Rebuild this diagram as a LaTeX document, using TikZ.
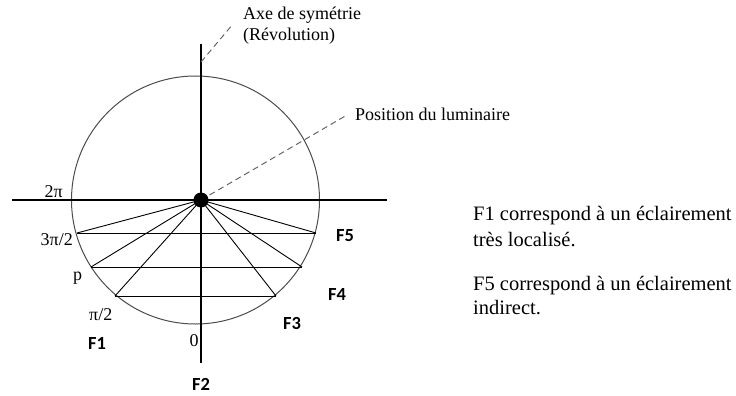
\documentclass[tikz,border=0pt]{standalone}
\usepackage{fontspec}
\setmainfont{Liberation Serif}
\newfontfamily\flabfont{Carlito}
\begin{document}
\begin{tikzpicture}[x=1pt,y=-1pt,
  axisln/.style={line width=1.2pt, black},
  circln/.style={line width=1pt, black!70},
  chordln/.style={line width=0.9pt, black},
  dashln/.style={dash pattern=on 6pt off 4pt, line width=1pt, black!60},
  lbl/.style={font=\fontsize{18}{20}\selectfont, inner sep=0pt},
  flab/.style={font=\flabfont\bfseries\fontsize{18.5}{20}\selectfont, inner sep=0pt},
  note/.style={font=\fontsize{20.5}{25}\selectfont, inner sep=0pt, anchor=base west},
  dot/.style={circle, fill=black, inner sep=0pt, minimum size=15pt}]
\useasboundingbox (0,0) rectangle (736,396);

% circle
\coordinate (C) at (195.5,200);
\draw[circln] (C) circle[radius=124pt];

% centre / axes ends
\coordinate (O) at (201,200);
\coordinate (vt) at (201,44);
\coordinate (vb) at (201,363);
\coordinate (hl) at (12,200);
\coordinate (hr) at (387,200);

% chord end points
\coordinate (a1) at (77,233);  \coordinate (a2) at (316,233);
\coordinate (b1) at (91,267);  \coordinate (b2) at (302,267);
\coordinate (c1) at (115,296); \coordinate (c2) at (276,296);

\draw[chordln] (a1) -- (a2);
\draw[chordln] (b1) -- (b2);
\draw[chordln] (c1) -- (c2);
\foreach \p in {a1,a2,b1,b2,c1,c2} \draw[chordln] (O) -- (\p);

% axes
\draw[axisln] (vt) -- (vb);
\draw[axisln] (hl) -- (hr);

% dashed leaders
\coordinate (axtop) at (201,62);
\coordinate (axend) at (233,24);
\coordinate (lumend) at (347,115);
\draw[dashln] (axtop) -- (axend);
\draw[dashln] (O) -- (lumend);

\node[dot] (lum) at (O) {};

% labels
\node[lbl, anchor=base west] (ax1) at (243,20) {Axe de symétrie};
\node[lbl, anchor=base west] (ax2) at (243,40.5) {(Révolution)};
\node[lbl, anchor=base west] (pos) at (355,120) {Position du luminaire};

\node[lbl, anchor=base east] (l2pi) at (63,197) {2π};
\node[lbl, anchor=base east] (l3pi) at (73,245) {3π/2};
\node[lbl, anchor=base west] (lp) at (73,280) {p};
\node[lbl, anchor=base west] (lpi) at (89,320) {π/2};
\node[lbl, anchor=base] (l0) at (194,346) {0};

\node[flab] (F1) at (97,343) {F1};
\node[flab] (F2) at (201,384) {F2};
\node[flab] (F3) at (292,323) {F3};
\node[flab] (F4) at (337,294) {F4};
\node[flab] (F5) at (345,236) {F5};

\node[note] (n1) at (473,220) {F1 correspond à un éclairement};
\node[note] (n2) at (473,246) {très localisé.};
\node[note] (n3) at (473,290) {F5 correspond à un éclairement};
\node[note] (n4) at (473,314) {indirect.};
\end{tikzpicture}
\end{document}
